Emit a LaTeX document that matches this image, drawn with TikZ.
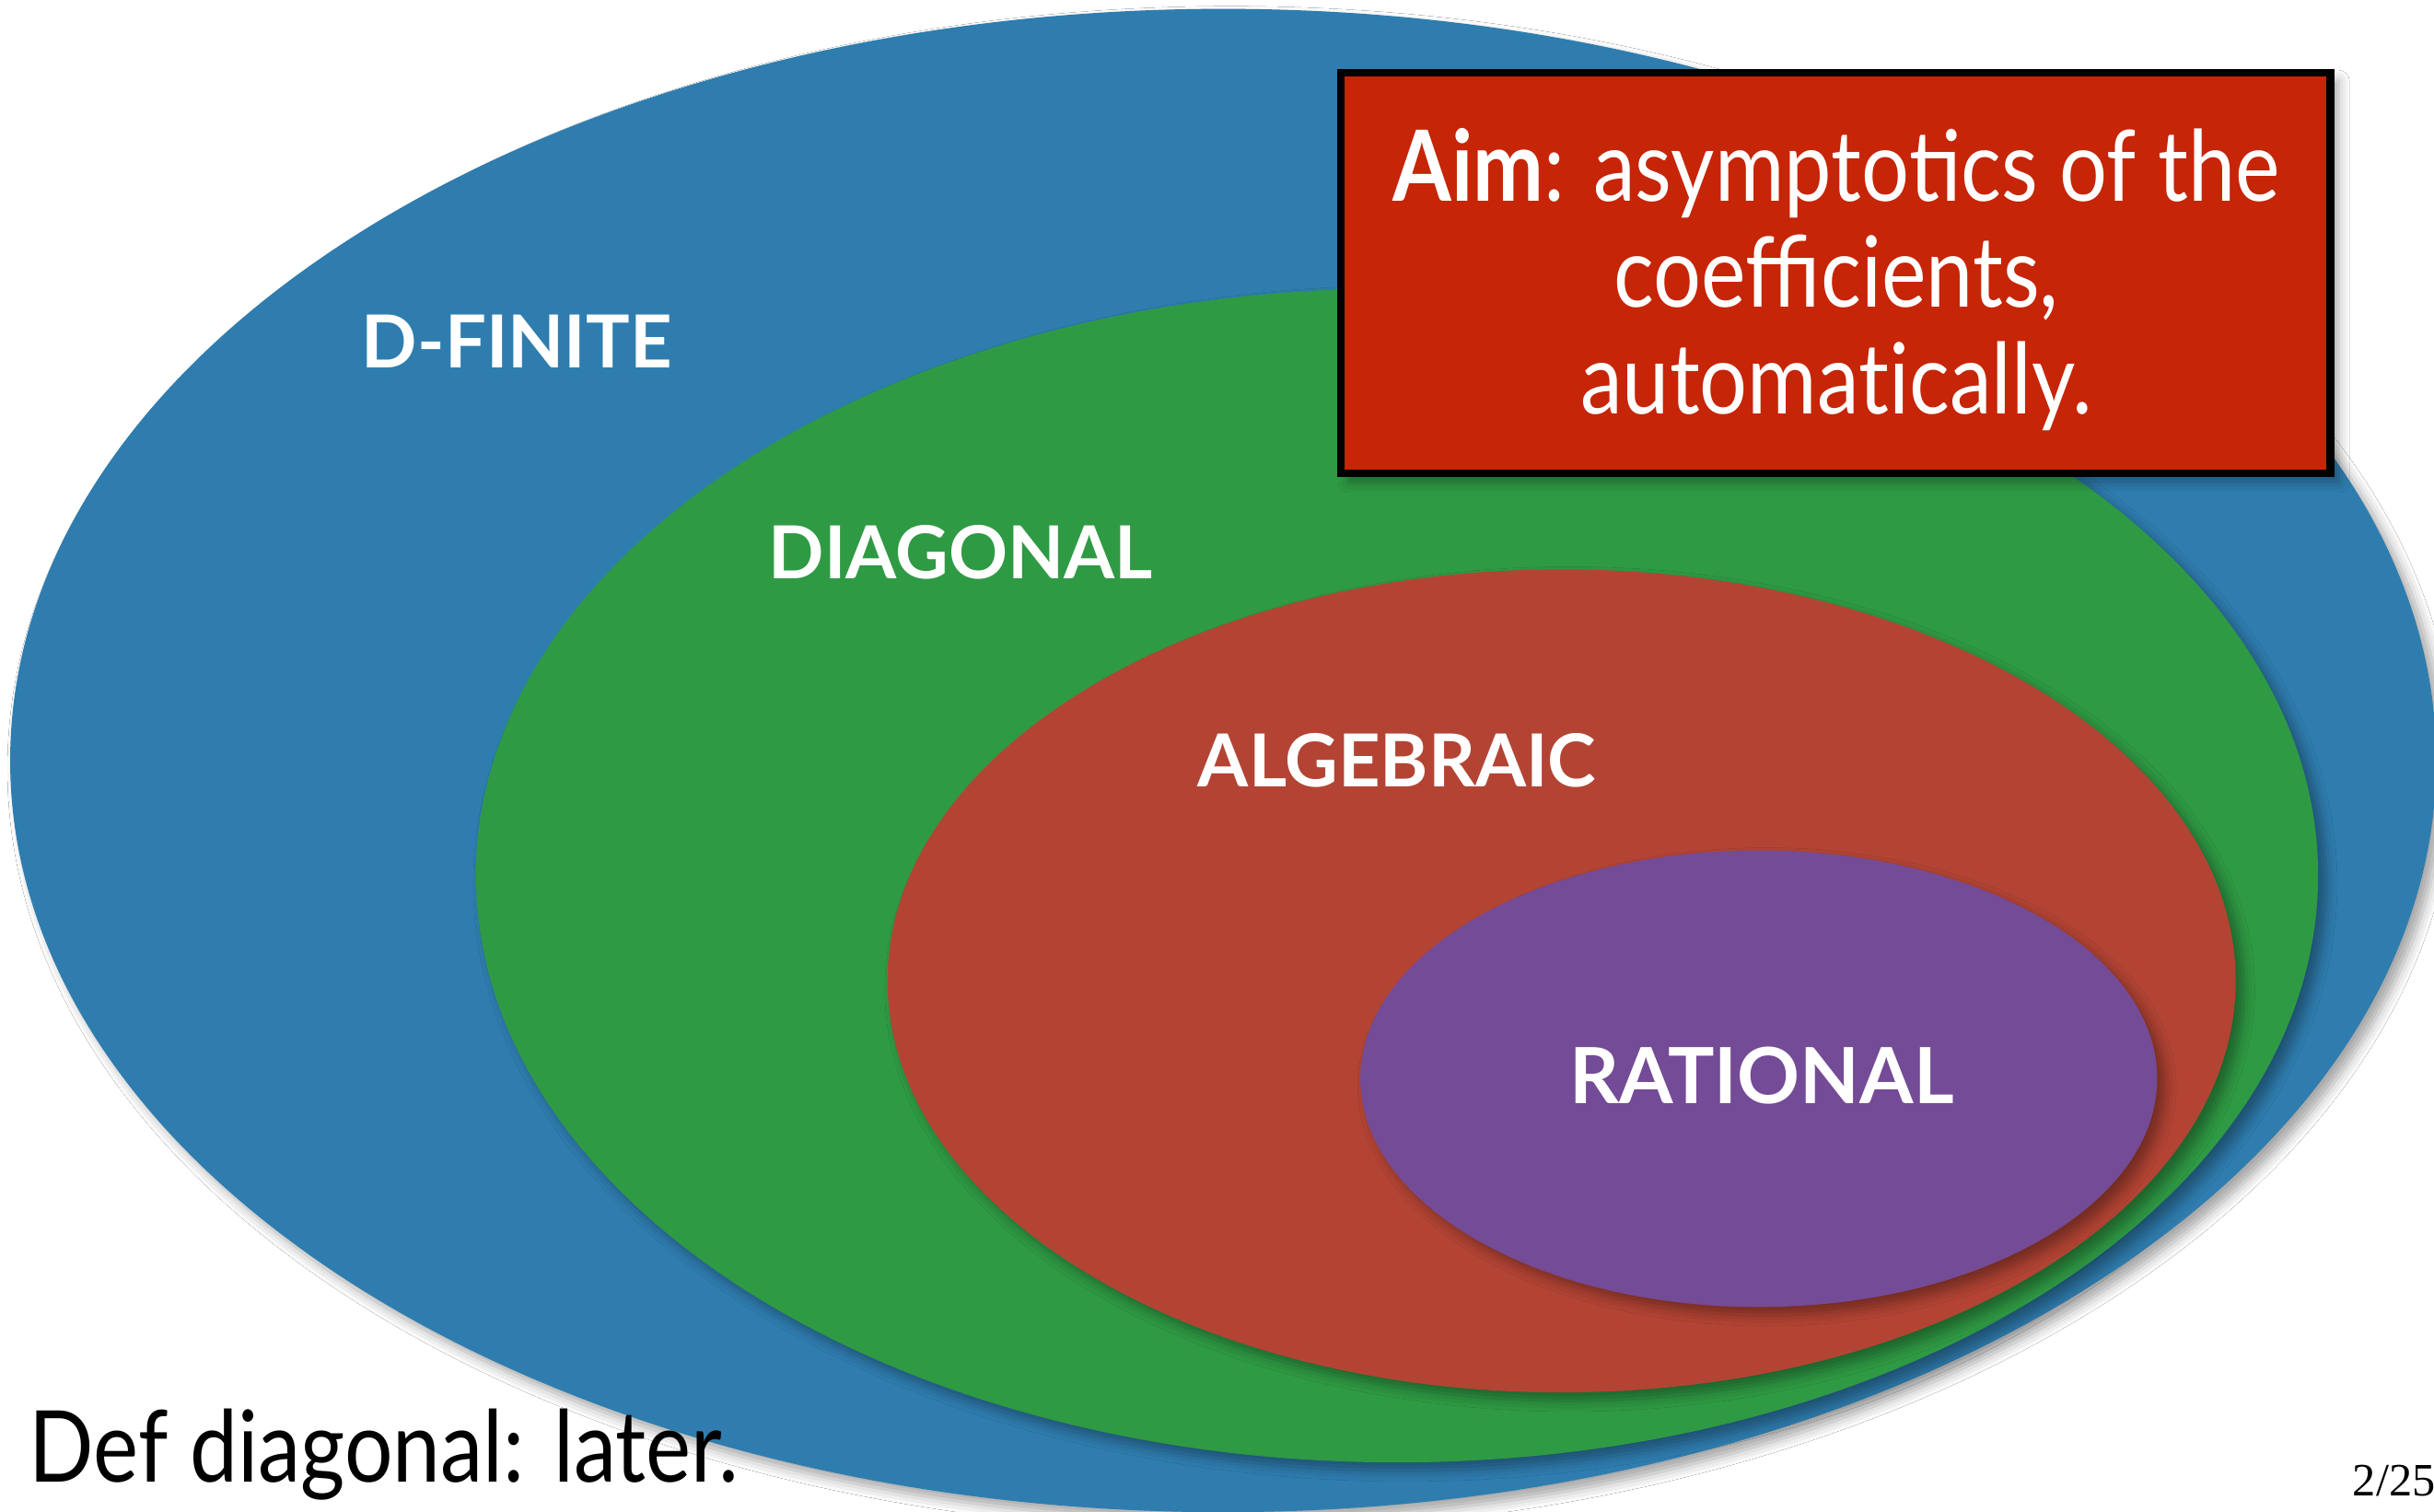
\documentclass[tikz,border=0pt]{standalone}
\usepackage{fontspec}
\setmainfont{Lato}
\newfontfamily\condfont[FakeStretch=0.86]{Lato}
\newfontfamily\pagefont{Liberation Serif}
\usetikzlibrary{shapes.geometric,shadows.blur}
\definecolor{cblue}{HTML}{2F7DAF}
\definecolor{cgreen}{HTML}{2F9A44}
\definecolor{cred}{HTML}{B34434}
\definecolor{cpurple}{HTML}{744B96}
\definecolor{cbox}{HTML}{C62507}
\tikzset{
  setshape/.style={ellipse, inner sep=0pt, draw=none,
    blur shadow={shadow xshift=1.5pt, shadow yshift=-1.5pt, shadow opacity=35, shadow blur radius=2pt}},
  setlabel/.style={text=white, font=\fontsize{13.4}{16}\selectfont\bfseries, inner sep=0pt},
}
\begin{document}
\begin{tikzpicture}[x=0.01cm,y=-0.01cm]
\useasboundingbox (0,0) rectangle (1568,974);
\clip (0,0) rectangle (1568,974);
\fill[white] (0,0) rectangle (1568,974);
\node[setshape, fill=cblue, minimum width=15.62cm, minimum height=9.68cm] (dfinite) at (788,490) {};
\node[setshape, fill=cgreen, minimum width=11.86cm, minimum height=7.56cm] (diagonal) at (900,564) {};
\node[setshape, fill=cred, minimum width=8.68cm, minimum height=5.30cm] (algebraic) at (1006,632) {};
\node[setshape, fill=cpurple, minimum width=5.13cm, minimum height=2.94cm] (rational) at (1133,695) {};
\node[setlabel] (ldfinite) at (333,220) {D-FINITE};
\node[setlabel] (ldiagonal) at (619,356) {DIAGONAL};
\node[setlabel] (lalgebraic) at (900,490) {ALGEBRAIC};
\node[setlabel, font=\fontsize{14.2}{17}\selectfont\bfseries] (lrational) at (1135,693) {RATIONAL};
\node[fill=cbox, draw=black, line width=1.4pt, minimum width=6.37cm, minimum height=2.58cm,
      text=white, align=center, inner sep=0pt,
      font=\condfont\fontsize{18}{19.5}\selectfont,
      blur shadow={shadow xshift=1.5pt, shadow yshift=-1.5pt, shadow opacity=35, shadow blur radius=2pt}]
  (aim) at (1182.5,176) {};
\node[text=white, align=center, inner sep=0pt, font=\condfont\fontsize{18}{19.5}\selectfont]
  (aimtext) at (1183,180) {{\bfseries Aim}: asympto\kern0pt tics of the\\coefficients,\\automat\kern0pt ically.};
\node[anchor=base west, inner sep=0pt, font=\condfont\fontsize{18.2}{21}\selectfont] (def) at (18,955) {Def diagonal: later.};
\node[anchor=base west, inner sep=0pt, font=\pagefont\fontsize{8.5}{10}\selectfont] (page) at (1515,964) {2/25};
\end{tikzpicture}
\end{document}
